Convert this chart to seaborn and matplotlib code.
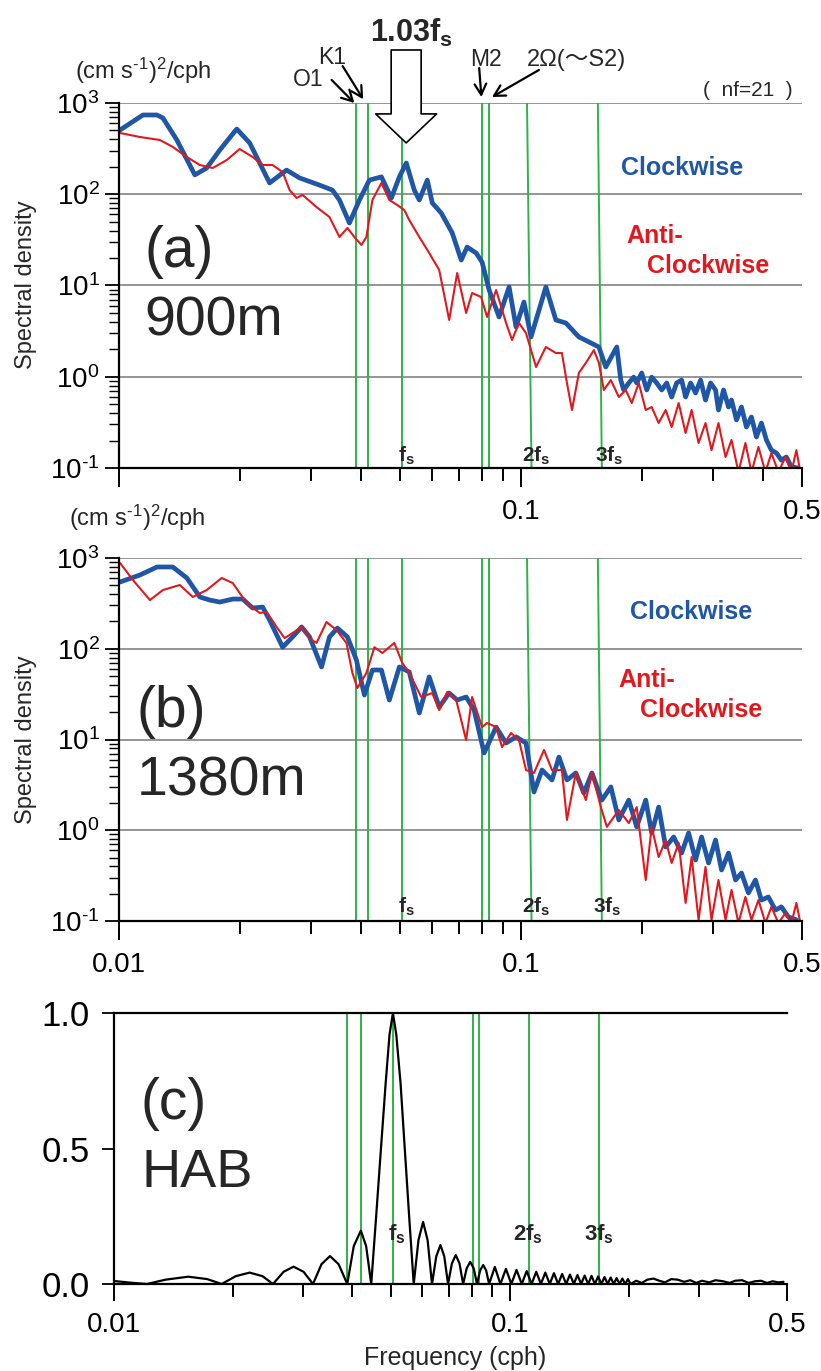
import numpy as np
import pandas as pd
import matplotlib
matplotlib.use("Agg")
import matplotlib.pyplot as plt
import seaborn as sns
from matplotlib.ticker import FixedLocator, FixedFormatter, NullFormatter, LogLocator

# ---------------------------------------------------------------- data
# (a) 900 m rotary spectra
a_cw_freq = [0.01006, 0.01147, 0.01243, 0.01286, 0.01393, 0.01544, 0.01653, 0.01781, 0.01963, 0.02114,
             0.02369, 0.02611, 0.02813, 0.03153, 0.03396, 0.03535, 0.03743, 0.03963, 0.04196, 0.04495,
             0.04759, 0.04982, 0.05184, 0.05427, 0.05585, 0.05846, 0.06016, 0.06333, 0.06745, 0.0710,
             0.07345, 0.07732, 0.0800, 0.0833, 0.0882, 0.0934, 0.0972, 0.1017, 0.1059, 0.1153,
             0.1221, 0.1293, 0.1393, 0.1562, 0.1625, 0.1731, 0.1771, 0.1801, 0.1854, 0.1907,
             0.1940, 0.1996, 0.2055, 0.2114, 0.2175, 0.2239, 0.2304, 0.2370, 0.2439, 0.2509,
             0.2567, 0.2642, 0.2718, 0.2797, 0.2877, 0.2962, 0.3047, 0.3099, 0.3190, 0.3283,
             0.3339, 0.3436, 0.3535, 0.3637, 0.3743, 0.3851, 0.3963, 0.4078, 0.4196, 0.4318,
             0.4443, 0.4571, 0.4705, 0.4897]
a_cw = [506, 739, 739, 685, 393, 163, 194, 305, 519, 365,
        133, 184, 151, 126, 111, 86.5, 48.4, 86.5, 143, 155,
        91, 155, 220, 111, 86.5, 143, 80.2, 62.3, 37.6, 19.0,
        26.4, 22.7, 18.1, 8.93, 4.52, 9.63, 3.51, 6.59, 2.73, 9.63,
        4.19, 3.88, 2.73, 2.12, 1.28, 2.12, 0.92, 0.716, 0.855, 0.99,
        0.855, 1.1, 0.716, 0.99, 0.855, 0.716, 0.855, 0.60, 0.855, 0.92,
        0.60, 0.855, 0.664, 0.92, 0.556, 0.855, 0.716, 0.432, 0.716, 0.466,
        0.556, 0.336, 0.466, 0.281, 0.362, 0.219, 0.311, 0.203, 0.157, 0.146,
        0.122, 0.132, 0.103, 0.10]

a_acw_freq = [0.01006, 0.01128, 0.01264, 0.01361, 0.01475, 0.01589, 0.01711, 0.01853, 0.01996, 0.0215,
              0.02277, 0.02411, 0.02553, 0.02657, 0.02766, 0.02862, 0.0310, 0.03339, 0.03535, 0.0370,
              0.03851, 0.04009, 0.04125, 0.04269, 0.04495, 0.04704, 0.04923, 0.05124, 0.05273, 0.05585,
              0.05911, 0.06259, 0.06627, 0.06938, 0.07303, 0.07557, 0.07957, 0.08234, 0.0867, 0.0918,
              0.09499, 0.09886, 0.1029, 0.1090, 0.1153, 0.1221, 0.1264, 0.1301, 0.1339, 0.1393,
              0.1450, 0.1518, 0.1562, 0.1607, 0.1673, 0.1751, 0.1822, 0.1886, 0.1963, 0.2043,
              0.2114, 0.2200, 0.2290, 0.2370, 0.2467, 0.2567, 0.2657, 0.2765, 0.2877, 0.2978,
              0.3099, 0.3227, 0.3339, 0.3475, 0.3616, 0.3743, 0.3896, 0.4055, 0.4196, 0.4368,
              0.4547, 0.4705, 0.4842, 0.4953]
a_acw = [469, 424, 393, 330, 256, 209, 194, 237, 313, 256,
         209, 209, 175, 111, 91, 98.2, 72.4, 56.3, 34.0, 42.7,
         34.0, 27.8, 34.0, 86.5, 133, 86.5, 76.2, 67.1, 52.2, 34.0,
         22.7, 14.8, 4.19, 13.7, 5.0, 8.28, 7.48, 4.52, 8.93, 3.88,
         2.53, 3.88, 3.01, 1.28, 2.12, 1.82, 1.82, 0.855, 0.432, 1.1,
         1.42, 1.96, 1.42, 0.716, 0.92, 0.60, 0.716, 0.515, 0.855, 0.432,
         0.466, 0.311, 0.432, 0.281, 0.515, 0.242, 0.432, 0.188, 0.311, 0.157,
         0.311, 0.132, 0.203, 0.09, 0.188, 0.09, 0.17, 0.09, 0.146, 0.09,
         0.132, 0.09, 0.157, 0.09]

# (b) 1380 m rotary spectra
b_cw_freq = [0.01006, 0.01128, 0.01243, 0.01361, 0.01475, 0.01589, 0.01682, 0.01781, 0.01918, 0.02031,
             0.0215, 0.02277, 0.02369, 0.02553, 0.02703, 0.02846, 0.02979, 0.0319, 0.03339, 0.03494,
             0.0370, 0.03895, 0.04078, 0.04269, 0.04495, 0.04704, 0.04982, 0.05273, 0.05585, 0.05911,
             0.06259, 0.06627, 0.06938, 0.07303, 0.07645, 0.08095, 0.0867, 0.0918, 0.0972, 0.1029,
             0.1077, 0.1128, 0.1194, 0.1243, 0.1301, 0.1369, 0.1433, 0.1501, 0.1589, 0.1673,
             0.1751, 0.1854, 0.1940, 0.2043, 0.2114, 0.2200, 0.2290, 0.2398, 0.2509, 0.2612,
             0.2718, 0.2813, 0.2928, 0.3047, 0.3154, 0.3283, 0.3417, 0.3535, 0.3679, 0.3830,
             0.3963, 0.4125, 0.4295, 0.4443, 0.4624, 0.4842]
b_cw = [544, 650, 796, 796, 602, 372, 344, 327, 353, 353,
        281, 288, 207, 104, 135, 174, 135, 63, 135, 169,
        135, 75.2, 30.9, 58.3, 58.3, 27.2, 63, 55.5, 19.6, 48.9,
        22.8, 32.5, 27.2, 29.4, 21.1, 7.1, 13.7, 9.14, 10.7, 9.14,
        2.64, 4.61, 3.58, 6.41, 3.58, 4.28, 2.57, 4.28, 2.15, 3.0,
        1.30, 2.15, 1.09, 2.15, 0.933, 1.80, 0.653, 0.843, 0.561, 0.933,
        0.47, 0.843, 0.436, 0.781, 0.365, 0.561, 0.283, 0.338, 0.204, 0.283,
        0.17, 0.184, 0.132, 0.143, 0.111, 0.103]

b_acw_freq = [0.01006, 0.01083, 0.01194, 0.01286, 0.01417, 0.01526, 0.01653, 0.01801, 0.01918, 0.02078,
              0.02238, 0.0233, 0.02466, 0.02582, 0.02703, 0.02846, 0.03013, 0.0310, 0.03282, 0.03475,
              0.03679, 0.03807, 0.03918, 0.04125, 0.04318, 0.0452, 0.0484, 0.05066, 0.05273, 0.05647,
              0.06016, 0.06259, 0.06552, 0.06899, 0.07303, 0.07557, 0.0800, 0.08234, 0.0867, 0.08973,
              0.09445, 0.09886, 0.1029, 0.1077, 0.1141, 0.1194, 0.1264, 0.1301, 0.1369, 0.1450,
              0.1501, 0.1580, 0.1635, 0.1751, 0.1854, 0.1940, 0.2043, 0.2114, 0.2200, 0.2290,
              0.2370, 0.2467, 0.2567, 0.2657, 0.2765, 0.2877, 0.2978, 0.3099, 0.3227, 0.3339,
              0.3475, 0.3616, 0.3743, 0.3896, 0.4055, 0.4196, 0.4368, 0.4547, 0.4705, 0.4842,
              0.4953]
b_acw = [881, 572, 344, 444, 504, 372, 444, 602, 530, 319,
         248, 254, 174, 131, 149, 174, 125, 116, 197, 161,
         116, 54.1, 36.9, 54.1, 104, 89.8, 116, 69.7, 54.1, 29.4,
         32.5, 21.1, 33.4, 27.2, 9.87, 29.4, 13.7, 15.2, 13.7, 8.26,
         11.8, 9.87, 4.61, 4.28, 7.66, 4.61, 4.61, 1.30, 4.28, 2.15,
         4.28, 1.80, 1.09, 1.67, 1.20, 1.80, 0.283, 1.09, 0.507, 0.781,
         0.436, 0.724, 0.158, 0.507, 0.103, 0.394, 0.103, 0.283, 0.103, 0.22,
         0.095, 0.184, 0.103, 0.17, 0.095, 0.143, 0.095, 0.122, 0.095, 0.158,
         0.095]

# (c) HAB response
hab_freq = [0.0100, 0.0110, 0.0121, 0.0135, 0.0154, 0.0172, 0.0187, 0.0203, 0.0220, 0.0237,
            0.0252, 0.0268, 0.0284, 0.0301, 0.0318, 0.0334, 0.0351, 0.0369, 0.0388, 0.0403,
            0.0420, 0.0433, 0.0446, 0.0459, 0.0472, 0.0485, 0.0496, 0.0506, 0.0516, 0.0529,
            0.0542, 0.0556, 0.0571, 0.0587, 0.0603, 0.0619, 0.0635, 0.0651, 0.0667, 0.0682,
            0.0697, 0.0713, 0.0729, 0.0745, 0.0761, 0.0777, 0.0793, 0.0809, 0.0825, 0.0840,
            0.0855, 0.0870, 0.0885, 0.0915, 0.0945, 0.0976, 0.1007, 0.1038, 0.1070, 0.1101,
            0.1133, 0.1164, 0.1196, 0.1227, 0.1259, 0.1290, 0.1322, 0.1353, 0.1385, 0.1416,
            0.1448, 0.1479, 0.1511, 0.1542, 0.1574, 0.1605, 0.1637, 0.1668, 0.1700, 0.1731,
            0.1763, 0.1794, 0.1826, 0.1857, 0.1889, 0.1920, 0.1952, 0.1983, 0.2015, 0.208,
            0.215, 0.222, 0.230, 0.238, 0.246, 0.255, 0.265, 0.275, 0.285, 0.295,
            0.305, 0.318, 0.330, 0.345, 0.358, 0.370, 0.385, 0.400, 0.415, 0.430,
            0.445, 0.460, 0.475, 0.490]
hab_resp = [0.011, 0.005, 0.0, 0.016, 0.027, 0.018, 0.0, 0.029, 0.042, 0.029,
            0.0, 0.045, 0.064, 0.045, 0.0, 0.073, 0.103, 0.073, 0.0, 0.140,
            0.197, 0.140, 0.0, 0.25, 0.50, 0.74, 0.92, 1.0, 0.92, 0.74,
            0.50, 0.25, 0.0, 0.162, 0.229, 0.162, 0.0, 0.102, 0.144, 0.102,
            0.0, 0.076, 0.107, 0.076, 0.0, 0.058, 0.082, 0.058, 0.0, 0.050,
            0.070, 0.050, 0.0, 0.063, 0.0, 0.056, 0.0, 0.052, 0.0, 0.048,
            0.0, 0.045, 0.0, 0.042, 0.0, 0.040, 0.0, 0.037, 0.0, 0.035,
            0.0, 0.033, 0.0, 0.031, 0.0, 0.030, 0.0, 0.028, 0.0, 0.026,
            0.0, 0.024, 0.0, 0.022, 0.0, 0.020, 0.0, 0.018, 0.0, 0.012,
            0.004, 0.016, 0.020, 0.012, 0.006, 0.018, 0.016, 0.008, 0.014, 0.004,
            0.012, 0.006, 0.014, 0.010, 0.004, 0.012, 0.014, 0.004, 0.010, 0.012,
            0.004, 0.010, 0.006, 0.008]

# reference frequencies O1, K1, fs, M2, S2, 2fs, 3fs (top / bottom ends of each line)
ref_top = [0.0388, 0.0417, 0.0507, 0.0800, 0.0833, 0.1035, 0.1553]
ref_bottom = [0.0388, 0.0417, 0.0507, 0.0800, 0.0833, 0.1062, 0.1589]
hab_ref = [0.0388, 0.0420, 0.0506, 0.0807, 0.0835, 0.1117, 0.1680]

density_decades = [0.1, 1, 10, 100, 1000]
decade_labels = ["$\\mathregular{10^{\u20101}}$", r"$\mathregular{10^{0}}$", r"$\mathregular{10^{1}}$",
                 r"$\mathregular{10^{2}}$", r"$\mathregular{10^{3}}$"]
freq_major = [0.01, 0.1, 0.5]
freq_minor = [0.02, 0.03, 0.04, 0.05, 0.06, 0.07, 0.08, 0.09, 0.2, 0.3, 0.4]

CW_BLUE = "#1f56a5"
ACW_RED = "#e0191f"
REF_GREEN = "#2db34a"
GRID_GREY = "#8c8c8c"

# ---------------------------------------------------------------- style
sns.set_theme(style="ticks")
plt.rcParams["font.family"] = ["Liberation Sans", "Noto Sans CJK JP", "DejaVu Sans"]
plt.rcParams["mathtext.fontset"] = "custom"
plt.rcParams["mathtext.rm"] = "Liberation Sans"
plt.rcParams["mathtext.it"] = "Liberation Sans:italic"
plt.rcParams["mathtext.bf"] = "Liberation Sans:bold"

W, H = 821, 1371
fig = plt.figure(figsize=(W / 100, H / 100), dpi=100)


def frame(left, top, right, bottom):
    return fig.add_axes([left / W, 1 - bottom / H, (right - left) / W, (bottom - top) / H])


def put(x, y, s, **kw):
    return fig.text(x / W, 1 - y / H, s, **kw)


def style_spectrum(ax, xlabels):
    ax.set_xscale("log")
    ax.set_yscale("log")
    ax.set_xlim(0.01, 0.5)
    ax.set_ylim(0.1, 1000)
    for side in ("top", "right"):
        ax.spines[side].set_visible(False)
    for side in ("left", "bottom"):
        ax.spines[side].set_linewidth(1.6)
        ax.spines[side].set_color("black")
        ax.spines[side].set_zorder(6)
    for level in density_decades[1:]:
        ax.axhline(level, color=GRID_GREY, lw=1.3, zorder=1)
    ax.yaxis.set_major_locator(FixedLocator(density_decades))
    ax.yaxis.set_major_formatter(FixedFormatter(decade_labels))
    ax.yaxis.set_minor_locator(LogLocator(base=10, subs=np.arange(2, 10)))
    ax.yaxis.set_minor_formatter(NullFormatter())
    ax.xaxis.set_major_locator(FixedLocator(freq_major))
    ax.xaxis.set_major_formatter(FixedFormatter(xlabels))
    ax.xaxis.set_minor_locator(FixedLocator(freq_minor))
    ax.xaxis.set_minor_formatter(NullFormatter())
    ax.tick_params(axis="y", which="major", direction="out", length=10, width=1.3,
                   labelsize=20, pad=4, colors="black")
    ax.tick_params(axis="y", which="minor", direction="out", length=7, width=1.0, colors="black")
    ax.tick_params(axis="x", which="major", direction="out", length=14, width=1.4,
                   labelsize=20, pad=8, colors="black")
    ax.tick_params(axis="x", which="minor", direction="out", length=9, width=1.4, colors="black")
    for top, bottom in zip(ref_top, ref_bottom):
        ax.plot([top, bottom], [1000, 0.1], color=REF_GREEN, lw=1.4, zorder=2)


def draw_spectra(ax, cw_f, cw, acw_f, acw):
    cw_df = pd.DataFrame({"freq": cw_f, "density": cw})
    acw_df = pd.DataFrame({"freq": acw_f, "density": acw})
    sns.lineplot(data=cw_df, x="freq", y="density", ax=ax, color=CW_BLUE, lw=3.4,
                 estimator=None, sort=False, zorder=3)
    sns.lineplot(data=acw_df, x="freq", y="density", ax=ax, color=ACW_RED, lw=1.5,
                 estimator=None, sort=False, zorder=4)
    ax.set_xlabel("")
    ax.set_ylabel("")


ax_a = frame(119, 103, 802, 468)
ax_b = frame(119, 558, 802, 921)
ax_c = frame(114, 1013, 787, 1284)

style_spectrum(ax_a, ["", "0.1", "0.5"])
style_spectrum(ax_b, ["0.01", "0.1", "0.5"])
draw_spectra(ax_a, a_cw_freq, a_cw, a_acw_freq, a_acw)
draw_spectra(ax_b, b_cw_freq, b_cw, b_acw_freq, b_acw)

# ---------------------------------------------------------------- panel (c)
ax_c.set_xscale("log")
ax_c.set_xlim(0.01, 0.5)
ax_c.set_ylim(0, 1.0)
ax_c.spines["right"].set_visible(False)
for side in ("left", "bottom", "top"):
    ax_c.spines[side].set_linewidth(1.6)
    ax_c.spines[side].set_color("black")
for f in hab_ref:
    ax_c.axvline(f, color=REF_GREEN, lw=1.4, zorder=2)
hab_df = pd.DataFrame({"freq": hab_freq, "response": hab_resp})
sns.lineplot(data=hab_df, x="freq", y="response", ax=ax_c, color="black", lw=1.6,
             estimator=None, sort=False, zorder=3, clip_on=False)
ax_c.set_xlabel("")
ax_c.set_ylabel("")
ax_c.yaxis.set_major_locator(FixedLocator([0.0, 0.5, 1.0]))
ax_c.yaxis.set_major_formatter(FixedFormatter(["0.0", "0.5", "1.0"]))
ax_c.xaxis.set_major_locator(FixedLocator(freq_major))
ax_c.xaxis.set_major_formatter(FixedFormatter(["0.01", "0.1", "0.5"]))
ax_c.xaxis.set_minor_locator(FixedLocator(freq_minor))
ax_c.xaxis.set_minor_formatter(NullFormatter())
ax_c.tick_params(axis="y", which="major", direction="out", length=8.6, width=1.3,
                 labelsize=25, pad=9, colors="black")
ax_c.tick_params(axis="x", which="major", direction="out", length=12, width=1.4,
                 labelsize=20, pad=8, colors="black")
ax_c.tick_params(axis="x", which="minor", direction="out", length=9, width=1.4, colors="black")

# ---------------------------------------------------------------- text
unit = "(cm s$^{\\mathregular{\u20101}}$)$^{\\mathregular{2}}$/cph"
put(143, 71, unit, ha="center", va="center", fontsize=17)
put(137, 518, unit, ha="center", va="center", fontsize=17)
put(26, 285, "Spectral density", rotation=90, ha="center", va="center", fontsize=17)
put(26, 740, "Spectral density", rotation=90, ha="center", va="center", fontsize=17)
put(455, 1358, "Frequency (cph)", ha="center", va="center", fontsize=18)

put(144, 252, "(a)", ha="left", va="center", fontsize=41)
put(144, 335, "900m", ha="left", va="baseline", fontsize=40)
put(136, 712, "(b)", ha="left", va="center", fontsize=41)
put(137, 795, "1380m", ha="left", va="baseline", fontsize=40)
put(140, 1104, "(c)", ha="left", va="center", fontsize=41)
put(141, 1187, "HAB", ha="left", va="baseline", fontsize=39)

for y_cw, y_anti, y_cw2, x_cw, x_anti, x_cw2 in [(168, 236, 266, 682, 626, 647),
                                                 (612, 680, 710, 691, 618, 640)]:
    put(x_cw, y_cw, "Clockwise", ha="center", va="center", fontsize=18,
        fontweight="bold", color=CW_BLUE)
    put(x_anti, y_anti, "Anti-", ha="left", va="center", fontsize=18,
        fontweight="bold", color=ACW_RED)
    put(x_cw2, y_cw2, "Clockwise", ha="left", va="center", fontsize=18,
        fontweight="bold", color=ACW_RED)

for base, xs in [(462, (398, 522, 595)), (913, (398, 522, 593))]:
    for x, s in zip(xs, [r"$\mathbf{f_s}$", r"$\mathbf{2f_s}$", r"$\mathbf{3f_s}$"]):
        put(x, base, s, ha="left", va="baseline", fontsize=15)
for x, s in zip((388, 513, 584), [r"$\mathbf{f_s}$", r"$\mathbf{2f_s}$", r"$\mathbf{3f_s}$"]):
    put(x, 1240, s, ha="left", va="baseline", fontsize=16)

# tidal / inertial annotations above panel (a)
put(411, 42, r"$\mathbf{1.03f_s}$", ha="center", va="baseline", fontsize=22)
put(308, 79, "O1", ha="center", va="center", fontsize=16.5)
put(332, 58, "K1", ha="center", va="center", fontsize=16.5)
put(486, 59, "M2", ha="center", va="center", fontsize=16.5)
put(576, 60, "2Ω(～S2)", ha="center", va="center", fontsize=17)
put(748, 90, "(  nf=21  )", ha="center", va="center", fontsize=15)

ax_a.annotate("", xy=(0.0518, 365), xytext=(0.0518, 3810), annotation_clip=False,
              arrowprops=dict(arrowstyle="simple,head_length=20.9,head_width=43.9,tail_width=21.6",
                              mutation_scale=1, fc="white", ec="black", lw=1.2,
                              shrinkA=0, shrinkB=0), zorder=8)
small_arrow = dict(arrowstyle="->,head_length=0.55,head_width=0.3", mutation_scale=14,
                   color="black", lw=1.6, shrinkA=0, shrinkB=0)
for tip, tail in [((0.0385, 1000), (0.0338, 1790)),
                  ((0.0405, 1100), (0.0360, 2540)),
                  ((0.0797, 1164), (0.0787, 2419)),
                  ((0.0847, 1164), (0.1108, 2299))]:
    ax_a.annotate("", xy=tip, xytext=tail, annotation_clip=False, arrowprops=small_arrow, zorder=8)

fig.savefig("out.png", dpi=100)
